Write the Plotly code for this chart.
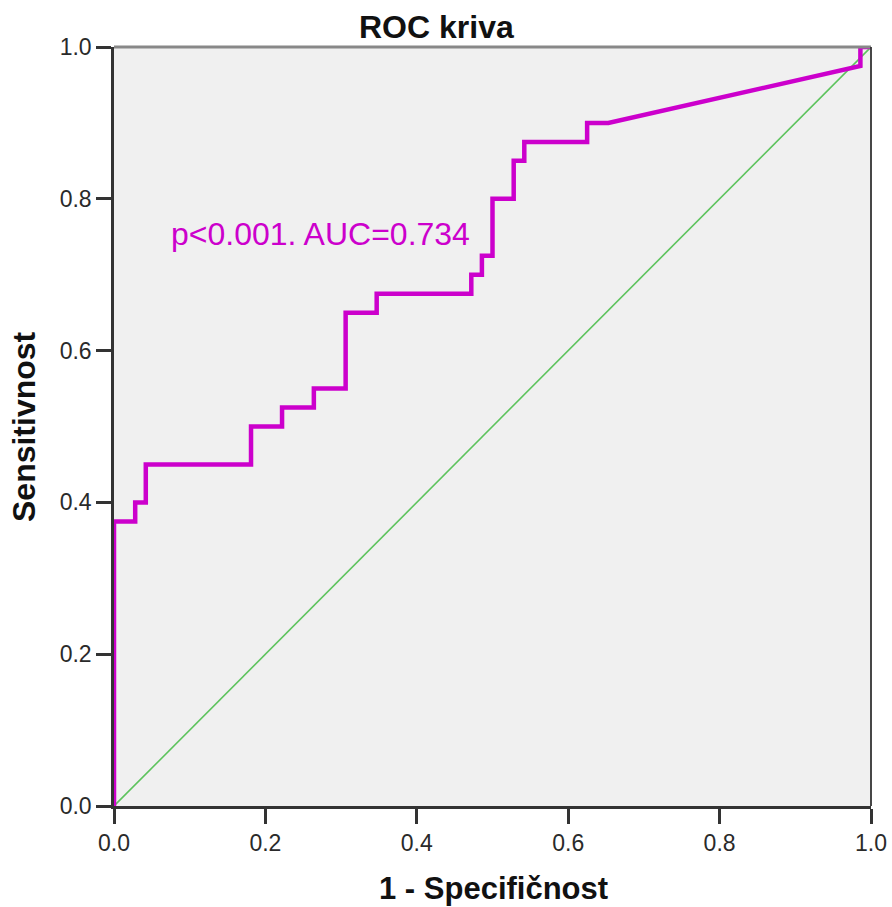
import plotly.graph_objects as go

# ROC curve points (1 - specificity, sensitivity)
fpr = [0.0, 0.0, 0.028, 0.028, 0.042, 0.042, 0.181, 0.181, 0.222, 0.222,
       0.264, 0.264, 0.306, 0.306, 0.347, 0.347, 0.472, 0.472, 0.486, 0.486,
       0.500, 0.500, 0.528, 0.528, 0.542, 0.542, 0.625, 0.625, 0.653, 0.986,
       0.986, 1.0]
tpr = [0.0, 0.375, 0.375, 0.400, 0.400, 0.450, 0.450, 0.500, 0.500, 0.525,
       0.525, 0.550, 0.550, 0.650, 0.650, 0.675, 0.675, 0.700, 0.700, 0.725,
       0.725, 0.800, 0.800, 0.850, 0.850, 0.875, 0.875, 0.900, 0.900, 0.975,
       1.0, 1.0]
ref_x = [0.0, 1.0]
ref_y = [0.0, 1.0]
ticks = [0.0, 0.2, 0.4, 0.6, 0.8, 1.0]
tick_text = ["0.0", "0.2", "0.4", "0.6", "0.8", "1.0"]

title_text = "ROC kriva"
x_title = "1 - Specifičnost"
y_title = "Sensitivnost"
note = "p<0.001. AUC=0.734"

FONT = "Liberation Sans, Arial, sans-serif"

L, R, T, B = 114, 21, 47, 101
W, H = 892, 907
PW, PH = W - L - R, H - T - B


def px(xp):
    return (xp - L) / PW


def py(yp):
    return (H - B - yp) / PH


fig = go.Figure()
fig.add_trace(go.Scatter(x=ref_x, y=ref_y, mode="lines",
                         line=dict(color="#5DC35D", width=1.6),
                         hoverinfo="skip", showlegend=False))
fig.add_trace(go.Scatter(x=fpr, y=tpr, mode="lines",
                         line=dict(color="#CC00CC", width=4.5),
                         showlegend=False))

axis_common = dict(
    range=[0, 1], tickvals=ticks, ticktext=tick_text,
    showgrid=False, zeroline=False, automargin=False,
    showline=True, linecolor="#333333", linewidth=2.5,
    ticks="outside", ticklen=15, tickwidth=2.5, tickcolor="#333333",
    tickfont=dict(family=FONT, size=23, color="#2a2a2a"),
)

fig.update_layout(
    width=W, height=H,
    margin=dict(l=L, r=R, t=T, b=B),
    paper_bgcolor="white", plot_bgcolor="#F0F0F0",
    xaxis=dict(**axis_common),
    yaxis=dict(**axis_common),
    shapes=[
        dict(type="line", xref="paper", yref="paper", x0=0, x1=1, y0=1, y1=1,
             line=dict(color="#888888", width=3)),
        dict(type="line", xref="paper", yref="paper", x0=1, x1=1, y0=0, y1=1,
             line=dict(color="#333333", width=1.8)),
    ],
    annotations=[
        dict(text="<b>" + title_text + "</b>", xref="paper", yref="paper",
             x=px(436), y=py(27), xanchor="center", yanchor="middle",
             showarrow=False,
             font=dict(family=FONT, size=32, color="#111111")),
        dict(text="<b>" + x_title + "</b>", xref="paper", yref="paper",
             x=px(493), y=py(888), xanchor="center", yanchor="middle",
             showarrow=False,
             font=dict(family=FONT, size=31, color="#111111")),
        dict(text="<b>" + y_title + "</b>", xref="paper", yref="paper",
             x=px(24), y=py(427), xanchor="center", yanchor="middle",
             textangle=-90, showarrow=False,
             font=dict(family=FONT, size=32, color="#111111")),
        dict(text=note, x=0.072, y=0.754, xref="x", yref="y",
             xanchor="left", yanchor="middle", showarrow=False,
             font=dict(family=FONT, size=32, color="#CC00CC")),
    ],
)

fig.write_html("out.html")
